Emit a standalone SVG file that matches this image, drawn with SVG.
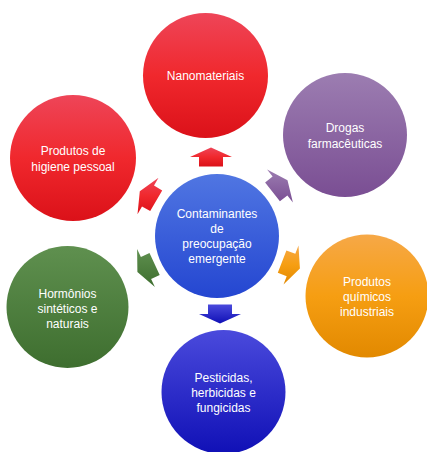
<svg xmlns="http://www.w3.org/2000/svg" width="427" height="452" viewBox="0 0 427 452">
  <defs>
    <linearGradient id="gRed" x1="0" y1="0" x2="0" y2="1">
      <stop offset="0" stop-color="#ee4558"/>
      <stop offset="0.5" stop-color="#f0282d"/>
      <stop offset="1" stop-color="#db1119"/>
    </linearGradient>
    <linearGradient id="gPurple" x1="0" y1="0" x2="0" y2="1">
      <stop offset="0" stop-color="#9c7db1"/>
      <stop offset="1" stop-color="#7a4e93"/>
    </linearGradient>
    <linearGradient id="gOrange" x1="0" y1="0" x2="0" y2="1">
      <stop offset="0" stop-color="#f6a847"/>
      <stop offset="0.5" stop-color="#f69e12"/>
      <stop offset="1" stop-color="#e28900"/>
    </linearGradient>
    <linearGradient id="gBlue" x1="0" y1="0" x2="0" y2="1">
      <stop offset="0" stop-color="#5076e2"/>
      <stop offset="1" stop-color="#2446d1"/>
    </linearGradient>
    <linearGradient id="gIndigo" x1="0" y1="0" x2="0" y2="1">
      <stop offset="0" stop-color="#4a4adc"/>
      <stop offset="1" stop-color="#1010b6"/>
    </linearGradient>
    <linearGradient id="gGreen" x1="0" y1="0" x2="0" y2="1">
      <stop offset="0" stop-color="#5f904f"/>
      <stop offset="1" stop-color="#3e6e2f"/>
    </linearGradient>
  </defs>
  <style>
    text { font-family: "Liberation Sans", Arial, sans-serif; font-size: 12px; fill: #ffffff; text-anchor: middle; }
  </style>

  <rect width="427" height="452" fill="#ffffff"/>

  <!-- outward block arrows from the hub -->
  <g id="connectors">
    <polygon fill="url(#gRed)" points="199,166.5 199,157 190,157 211,147.5 232,157 223,157 223,166.5"/>
    <polygon fill="url(#gPurple)" points="265.1,182.4 272.6,176.5 267.1,169.5 287.5,180.2 292.9,202.5 287.4,195.5 279.9,201.3"/>
    <polygon fill="url(#gOrange)" points="286.4,250.4 295.3,253.8 298.5,245.4 299.9,268.4 283.5,284.6 286.7,276.2 277.8,272.8"/>
    <polygon fill="url(#gIndigo)" points="232,304.5 232,314 241,314 220,323.5 199,314 208,314 208,304.5"/>
    <polygon fill="url(#gGreen)" points="159.7,274.9 151.1,278.9 154.9,287 137.4,272 137.1,249 140.9,257.1 149.5,253.1"/>
    <polygon fill="url(#gRed)" points="150.2,211.1 142,206.4 137.5,214.2 139.8,191.3 158.5,177.8 154,185.6 162.2,190.4"/>
  </g>

  <g id="hub">
    <circle cx="217" cy="236" r="62" fill="url(#gBlue)"/>
    <text x="217" y="218">Contaminantes</text>
    <text x="217" y="233">de</text>
    <text x="217" y="248">preocupação</text>
    <text x="217" y="263">emergente</text>
  </g>

  <g id="nanomateriais">
    <circle cx="205.5" cy="75.5" r="62.5" fill="url(#gRed)"/>
    <text x="205.5" y="80">Nanomateriais</text>
  </g>

  <g id="drogas">
    <circle cx="345" cy="135" r="62" fill="url(#gPurple)"/>
    <text x="345" y="132">Drogas</text>
    <text x="345" y="148">farmacêuticas</text>
  </g>

  <g id="quimicos">
    <circle cx="367" cy="296" r="61.5" fill="url(#gOrange)"/>
    <text x="367" y="286">Produtos</text>
    <text x="367" y="301">químicos</text>
    <text x="367" y="316">industriais</text>
  </g>

  <g id="pesticidas">
    <circle cx="223.5" cy="392" r="62" fill="url(#gIndigo)"/>
    <text x="223.5" y="382">Pesticidas,</text>
    <text x="223.5" y="397">herbicidas e</text>
    <text x="223.5" y="412">fungicidas</text>
  </g>

  <g id="hormonios">
    <circle cx="67.5" cy="307" r="61" fill="url(#gGreen)"/>
    <text x="67.5" y="298">Hormônios</text>
    <text x="67.5" y="313">sintéticos e</text>
    <text x="67.5" y="328">naturais</text>
  </g>

  <g id="higiene">
    <circle cx="73" cy="158" r="63" fill="url(#gRed)"/>
    <text x="73" y="155">Produtos de</text>
    <text x="73" y="171">higiene pessoal</text>
  </g>
</svg>
